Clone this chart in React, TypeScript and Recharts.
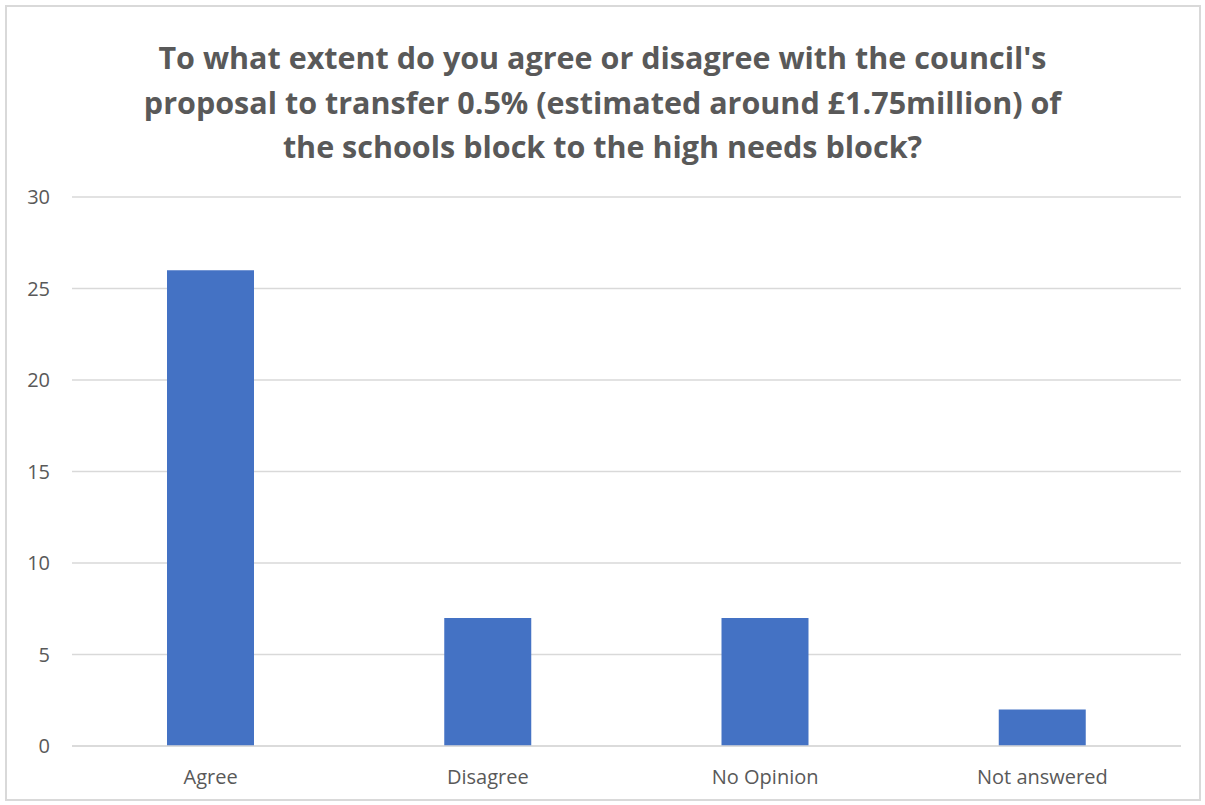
import React from "react";
import { BarChart, Bar, XAxis, YAxis, CartesianGrid } from "recharts";

const categories = ["Agree", "Disagree", "No Opinion", "Not answered"];
const responses = [26, 7, 7, 2];
const yTicks = [0, 5, 10, 15, 20, 25, 30];
const titleLines = [
  "To what extent do you agree or disagree with the council's",
  "proposal to transfer 0.5% (estimated around £1.75million) of",
  "the schools block to the high needs block?",
];

const data = categories.map((name, i) => ({ name, value: responses[i] }));

const FONT = "'Open Sans', sans-serif";
const GREY = "#595959";

export default function App() {
  return (
    <div style={{ position: "absolute", left: 0, top: 0, width: 1205, height: 805, background: "#fff", fontFamily: FONT }}>
      <div style={{ position: "absolute", left: 5, top: 5, width: 1192, height: 792, border: "2px solid #d9d9d9" }} />
      <div style={{ position: "absolute", left: 0, top: 35, width: 1205, textAlign: "center", color: GREY, fontWeight: 700, fontSize: 30.5, lineHeight: "44.5px" }}>
        {titleLines.map((l) => <div key={l}>{l}</div>)}
      </div>
      <BarChart width={1205} height={805} data={data} margin={{ top: 197, right: 24, bottom: 0, left: 0 }}
        style={{ position: "absolute", left: 0, top: 0 }}>
        <CartesianGrid vertical={false} stroke="#d9d9d9" strokeWidth={1.5} />
        <XAxis dataKey="name" height={59} axisLine={{ stroke: "#d9d9d9", strokeWidth: 1.5 }} tickLine={false} tickSize={0} tickMargin={24}
          tick={{ fill: GREY, fontSize: 20, fontFamily: FONT }} />
        <YAxis domain={[0, 30]} ticks={yTicks} width={72} axisLine={false} tickLine={false} tickSize={0} tickMargin={22}
          tick={{ fill: GREY, fontSize: 20, fontFamily: FONT }} />
        <Bar dataKey="value" fill="#4472C4" barSize={87} isAnimationActive={false} />
      </BarChart>
    </div>
  );
}
